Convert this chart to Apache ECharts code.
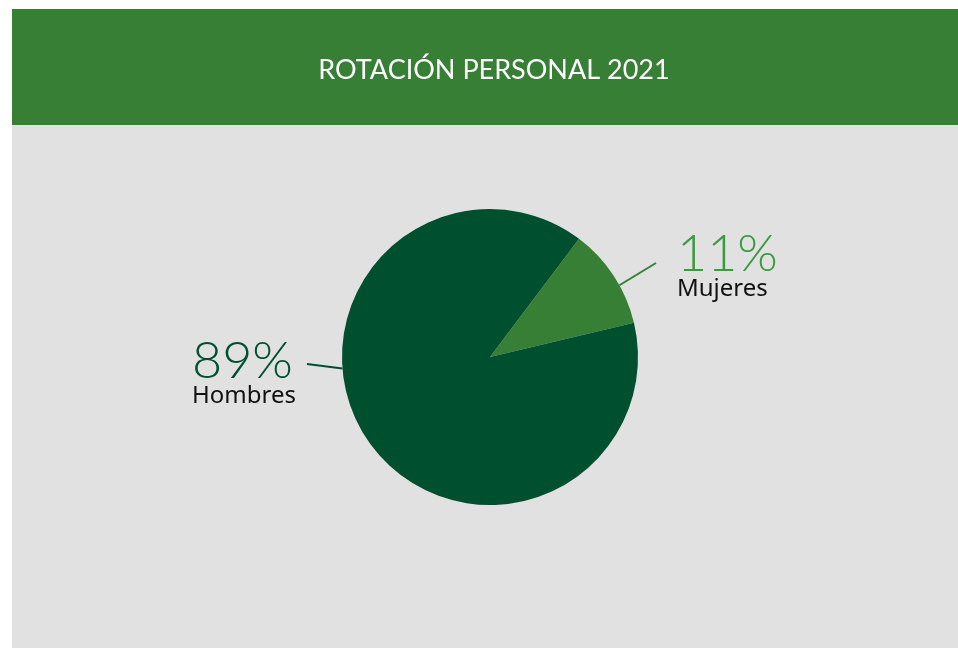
<!DOCTYPE html>
<html>
<head>
<meta charset="utf-8">
<script src="https://cdn.jsdelivr.net/npm/echarts@6/dist/echarts.min.js"></script>
<style>
  html, body { margin: 0; padding: 0; background: #ffffff; }
  #chart { width: 958px; height: 648px; }
</style>
</head>
<body>
<div id="chart"></div>
<script>
  // datos
  var categorias = ['Mujeres', 'Hombres'];
  var valores = [11, 89];
  var titulo = 'ROTACIÓN PERSONAL 2021';

  var colores = ['#367f34', '#00502f'];
  var coloresPct = ['#3a9a3e', '#00502f'];

  var myChart = echarts.init(document.getElementById('chart'));

  var datos = categorias.map(function (c, i) {
    return {
      name: c,
      value: valores[i],
      itemStyle: { color: colores[i] },
      label: {
        rich: {
          p: { fontSize: 52, fontFamily: 'Lato', color: coloresPct[i], lineHeight: 48, fontWeight: 300 },
          n: { fontSize: 24, fontFamily: 'Noto Sans', color: '#111', lineHeight: 22 }
        }
      },
      labelLine: { lineStyle: { color: colores[i] } }
    };
  });

  myChart.setOption({
    backgroundColor: '#ffffff',
    animation: false,
    graphic: [
      { type: 'rect', shape: { x: 12, y: 9, width: 946, height: 116 }, style: { fill: '#367f34' }, z: -10 },
      { type: 'rect', shape: { x: 12, y: 125, width: 946, height: 523 }, style: { fill: '#e1e1e1' }, z: -10 }
    ],
    title: {
      text: titulo,
      left: 489,
      top: 52,
      textAlign: 'center',
      textStyle: { color: '#ffffff', fontSize: 27, fontWeight: 'normal', fontFamily: 'Lato' }
    },
    series: [
      {
        type: 'pie',
        center: [490, 357],
        radius: 148,
        startAngle: 53,
        clockwise: true,
        data: datos,
        label: {
          show: true,
          position: 'outside',
          formatter: '{p|{d}%}\n{n|{b}}',
          align: 'left'
        },
        labelLine: { show: true, length: 20, length2: 0, lineStyle: { width: 2 } },
        labelLayout: function (params) {
          // posicion de etiquetas y lineas
          var pos = [[677, 265], [192, 372]];
          var fin = [[656, 263], [307, 364]];
          var ang = [29, 184.5];
          var i = params.dataIndex;
          var a = ang[i] * Math.PI / 180;
          var x0 = 490 + 148 * Math.cos(a);
          var y0 = 357 - 148 * Math.sin(a);
          return {
            x: pos[i][0],
            y: pos[i][1],
            align: 'left',
            verticalAlign: 'middle',
            labelLinePoints: [[x0, y0], fin[i]]
          };
        },
        emphasis: { disabled: true }
      }
    ]
  });
</script>
</body>
</html>
